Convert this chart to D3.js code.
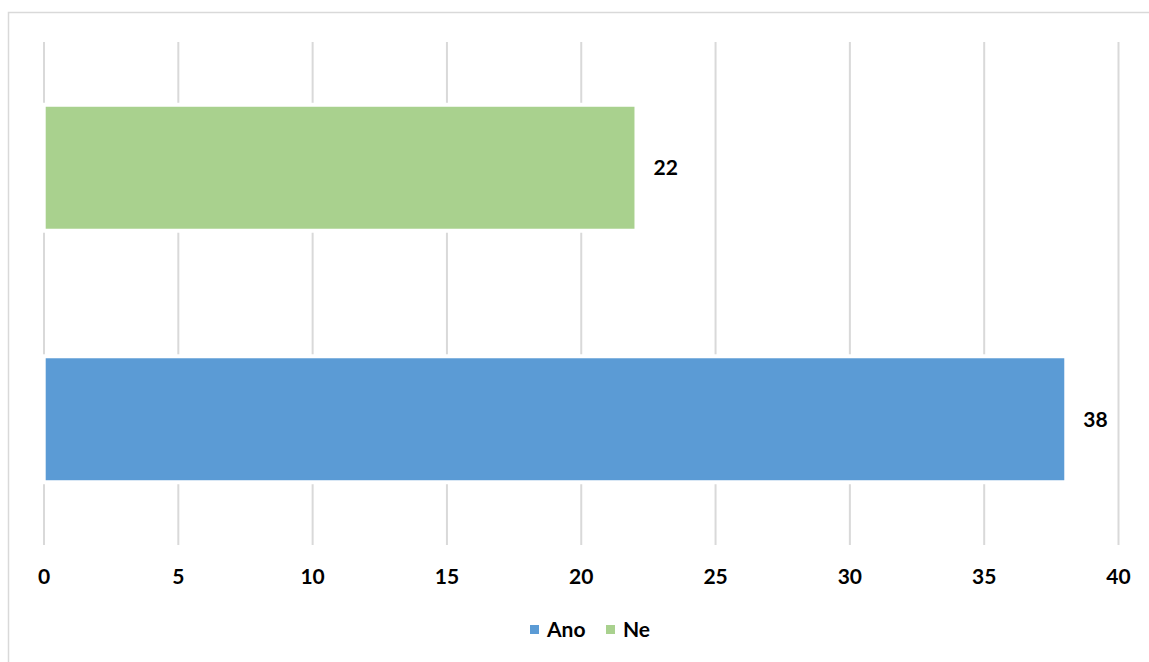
<!DOCTYPE html>
<html>
<head>
<meta charset="utf-8">
<script src="https://cdn.jsdelivr.net/npm/d3@7"></script>
<style>
  html, body { margin: 0; padding: 0; background: #ffffff; }
  svg { display: block; }
  text { font-family: Lato, "Open Sans", sans-serif; font-weight: 700; fill: #000; }
</style>
</head>
<body>
<svg id="chart" width="1149" height="662"></svg>
<script>
// Series and their values
const categories = ["Ano", "Ne"];
const values = [38, 22];
const colors = ["#5b9bd5", "#a9d18e"];
const xTicks = [0, 5, 10, 15, 20, 25, 30, 35, 40];

const svg = d3.select("#chart");
const W = 1149, H = 662;

// Outer frame (continues past the right and bottom edges)
svg.append("rect")
  .attr("x", 8.5).attr("y", 12.5)
  .attr("width", W + 20).attr("height", H + 20)
  .attr("fill", "none").attr("stroke", "#d9d9d9").attr("stroke-width", 1.5);

const plot = { left: 43.5, right: 1118, top: 42, bottom: 545 };

const x = d3.scaleLinear().domain([0, 40]).range([plot.left, plot.right]);
// Ne drawn above Ano
const y = d3.scaleBand()
  .domain(["Ne", "Ano"])
  .range([plot.top, plot.bottom])
  .paddingInner(0.515)
  .paddingOuter(0.2575);

// Vertical gridlines
svg.append("g")
  .attr("transform", `translate(0,${plot.bottom})`)
  .call(d3.axisBottom(x).tickValues(xTicks).tickSize(-(plot.bottom - plot.top)).tickFormat(""))
  .call(g => g.select(".domain").remove())
  .call(g => g.selectAll("line").attr("stroke", "#d9d9d9").attr("stroke-width", 2));

const data = categories.map((c, i) => ({ cat: c, value: values[i], color: colors[i] }));

// White halo around bars interrupting gridlines
svg.append("g").selectAll("rect")
  .data(data).join("rect")
  .attr("x", x(0) - 2)
  .attr("y", d => y(d.cat) - 4)
  .attr("width", d => x(d.value) - x(0) + 6)
  .attr("height", y.bandwidth() + 8)
  .attr("fill", "#ffffff");

// Bars
svg.append("g").selectAll("rect")
  .data(data).join("rect")
  .attr("x", x(0) + 2.2)
  .attr("y", d => y(d.cat))
  .attr("width", d => x(d.value) - x(0) - 2.2)
  .attr("height", y.bandwidth())
  .attr("fill", d => d.color);

// Value labels
svg.append("g").selectAll("text")
  .data(data).join("text")
  .attr("x", d => x(d.value) + 19)
  .attr("y", d => y(d.cat) + y.bandwidth() / 2)
  .attr("dy", "0.35em")
  .attr("font-size", 21)
  .text(d => d.value);

// X axis labels
svg.append("g")
  .attr("transform", `translate(0,${plot.bottom})`)
  .call(d3.axisBottom(x).tickValues(xTicks).tickSize(0).tickPadding(24))
  .call(g => g.select(".domain").remove())
  .call(g => g.selectAll("text")
    .attr("font-size", 21)
    .attr("font-family", "Lato, 'Open Sans', sans-serif")
    .attr("font-weight", 700)
    .attr("fill", "#000"));

// Legend
const legendItems = [
  { label: "Ano", color: colors[0], x: 530 },
  { label: "Ne", color: colors[1], x: 606 }
];
const lg = svg.append("g");
lg.selectAll("rect")
  .data(legendItems).join("rect")
  .attr("x", d => d.x).attr("y", 625)
  .attr("width", 9).attr("height", 9)
  .attr("fill", d => d.color);
lg.selectAll("text")
  .data(legendItems).join("text")
  .attr("x", d => d.x + 17)
  .attr("y", 630)
  .attr("dy", "0.35em")
  .attr("font-size", 21)
  .text(d => d.label);
</script>
</body>
</html>
